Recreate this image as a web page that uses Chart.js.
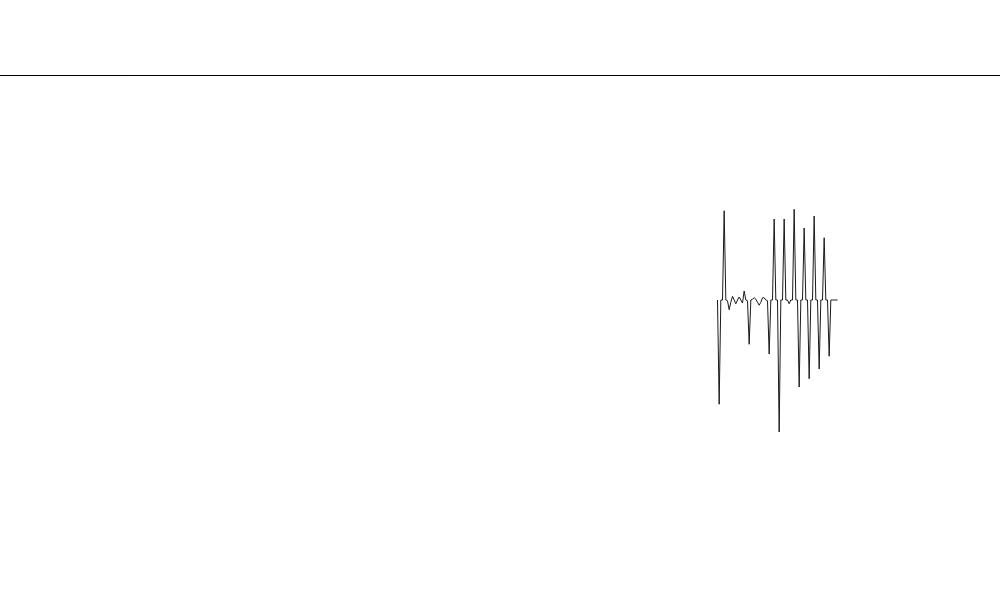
<!DOCTYPE html>
<html>
<head>
<meta charset="utf-8">
<script src="https://cdn.jsdelivr.net/npm/chart.js@4/dist/chart.umd.min.js"></script>
<style>
  html, body { margin: 0; padding: 0; background: #ffffff; }
  #wrap { width: 1000px; height: 600px; }
</style>
</head>
<body>
<div id="wrap"><canvas id="c" width="1000" height="600"></canvas></div>
<script>
// Sample index of first recorded value
const startIndex = 430;
// Total number of sample slots on the x axis
const sampleCount = 600;
// Recorded signal values (amplitude units)
const signal = [
  0.00, -1.39, 0.00, 0.00, 1.19, 0.00, -0.01, -0.13, -0.03, 0.05,
  0.00, -0.05, 0.00, 0.04, 0.00, -0.04, 0.12, 0.00, -0.01, -0.59,
  0.00, 0.01, 0.03, 0.01, -0.03, -0.07, -0.03, 0.03, 0.03, 0.00,
  -0.01, -0.72, 0.00, 0.00, 1.08, 0.00, 0.00, -1.76, 0.00, 0.00,
  1.08, 0.00, 0.00, -0.05, 0.00, 0.00, 1.21, 0.00, 0.00, -1.16,
  0.00, 0.00, 0.96, 0.00, 0.00, -1.05, 0.00, 0.00, 1.12, 0.00,
  0.00, -0.92, 0.00, 0.00, 0.83, 0.00, 0.00, -0.75, 0.00, 0.00,
  0.00, 0.00, 0.00
];
// Reference level drawn across the whole record
const referenceLevel = 2.993;
// Amplitude range
const yMin = -4;
const yMax = 4;

const signalPoints = signal.map((v, i) => ({ x: startIndex + i, y: v }));
const referencePoints = [
  { x: -0.5, y: referenceLevel },
  { x: sampleCount - 0.5, y: referenceLevel }
];

new Chart(document.getElementById('c'), {
  type: 'line',
  data: {
    datasets: [
      {
        label: 'reference',
        data: referencePoints,
        borderColor: '#000000',
        borderWidth: 1,
        pointRadius: 0,
        tension: 0
      },
      {
        label: 'signal',
        data: signalPoints,
        borderColor: '#1a1a1a',
        borderWidth: 1,
        pointRadius: 0,
        tension: 0
      }
    ]
  },
  options: {
    responsive: false,
    animation: false,
    layout: { padding: 0 },
    plugins: { legend: { display: false }, tooltip: { enabled: false } },
    scales: {
      x: { type: 'linear', min: -0.5, max: sampleCount - 0.5, display: false },
      y: { type: 'linear', min: yMin, max: yMax, display: false }
    }
  }
});
</script>
</body>
</html>
